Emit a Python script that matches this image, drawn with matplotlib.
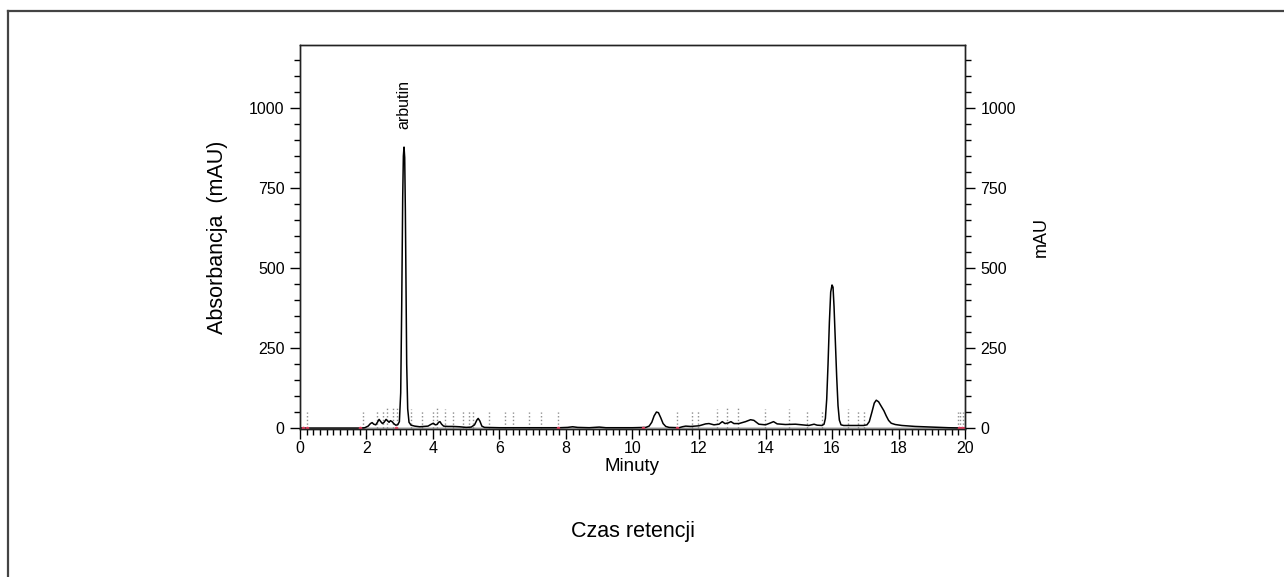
import matplotlib
matplotlib.use('Agg')
from matplotlib import pyplot as plt
from matplotlib.ticker import MultipleLocator
from matplotlib.lines import Line2D

plt.rcParams['font.family'] = ['Liberation Sans', 'DejaVu Sans']

# chromatogram trace (minutes, mAU)
time = [0.0, 1.85, 1.95, 2.05, 2.12, 2.17, 2.22, 2.28, 2.33, 2.38, 2.43, 2.48,
        2.53, 2.59, 2.64, 2.68, 2.72, 2.77, 2.82, 2.88, 2.94, 2.99, 3.03, 3.06,
        3.09, 3.11, 3.13, 3.15, 3.17, 3.19, 3.21, 3.24, 3.28, 3.34, 3.45, 3.6,
        3.75, 3.85, 3.95, 4.01, 4.07, 4.12, 4.17, 4.21, 4.26, 4.32, 4.45, 4.6,
        4.8, 5.0, 5.15, 5.25, 5.32, 5.36, 5.41, 5.47, 5.55, 6.0, 7.0, 7.8,
        8.05, 8.2, 8.35, 8.7, 9.0, 9.2, 10.0, 10.4, 10.5, 10.58, 10.65, 10.72,
        10.78, 10.85, 10.92, 11.0, 11.1, 11.4, 11.5, 11.6, 11.75, 12.0, 12.2,
        12.3, 12.45, 12.6, 12.7, 12.78, 12.88, 12.96, 13.05, 13.2, 13.4, 13.55,
        13.65, 13.8, 14.0, 14.15, 14.24, 14.35, 14.6, 14.9, 15.1, 15.3, 15.46,
        15.55, 15.7, 15.76, 15.8, 15.84, 15.88, 15.92, 15.96, 16.0, 16.03,
        16.06, 16.1, 16.14, 16.18, 16.22, 16.27, 16.35, 16.6, 16.95, 17.05,
        17.12, 17.2, 17.27, 17.33, 17.4, 17.48, 17.56, 17.63, 17.7, 17.78,
        17.9, 18.1, 18.5, 19.0, 19.5, 20.0]
absorb = [0, 0, 1, 6, 14, 17, 12, 10, 18, 27, 20, 14,
          18, 27, 22, 18, 23, 20, 14, 9, 10, 20, 110, 380,
          720, 850, 878, 845, 680, 420, 200, 60, 18, 9, 6, 4,
          5, 6, 12, 15, 10, 11, 18, 20, 12, 6, 5, 5,
          4, 2, 3, 10, 25, 30, 22, 6, 2, 1, 1, 1,
          2, 4, 2, 1, 3, 1, 1, 2, 6, 18, 38, 50,
          48, 32, 14, 5, 2, 1, 4, 6, 5, 7, 13,
          14, 10, 12, 20, 14, 16, 20, 14, 14, 20, 26,
          24, 12, 10, 16, 20, 13, 11, 12, 10, 8, 12,
          9, 8, 12, 30, 90, 200, 330, 425, 447, 440,
          380, 270, 160, 70, 25, 10, 8, 8, 8, 10,
          20, 50, 78, 87, 82, 68, 54, 38, 24, 15,
          11, 8, 5, 3, 1, 0]

# integration event markers (dotted)
mark_t = [0.22, 1.90, 2.31, 2.51, 2.63, 2.81, 2.91, 3.34, 3.66, 3.99, 4.13,
          4.36, 4.59, 4.89, 5.09, 5.21, 5.69, 6.17, 6.42, 6.90, 7.24, 7.77,
          11.33, 11.78, 11.98, 12.53, 12.83, 13.16, 13.98, 14.71, 15.24,
          15.69, 16.49, 16.77, 16.97, 19.80, 19.85, 19.93]
mark_h = [50, 50, 56, 53, 62, 66, 62, 58, 55, 55, 62,
          58, 56, 53, 53, 53, 50, 50, 50, 50, 50, 50,
          51, 56, 56, 58, 62, 64, 60, 60, 56,
          56, 60, 56, 56, 50, 50, 50]
red_t = [0.1, 0.22, 1.8, 2.9, 7.77, 10.32, 11.33, 19.82, 19.9, 20.0]

fig = plt.figure(figsize=(12.84, 5.77), dpi=100)
ax = fig.add_axes([0.2336, 0.2565, 0.518, 0.6655])

ax.plot([1.8, 20], [0, 0], '-', color='#c8c8c8', linewidth=2, zorder=1)
for t, h in zip(mark_t, mark_h):
    ax.plot([t, t], [0, h], ':', color='#8c8c8c', linewidth=1, zorder=1)
ax.plot(time, absorb, 'k-', linewidth=1.1, zorder=3)
ax.plot(red_t, [0] * len(red_t), 'o', color='#e04060', markersize=1.6,
        zorder=4)

ax.text(3.13, 935, 'arbutin', rotation=90, ha='center', va='bottom',
        fontsize=11.5)

ax.set_xlim(0, 20)
ax.set_ylim(-3, 1197)
ax.xaxis.set_major_locator(MultipleLocator(2))
ax.xaxis.set_minor_locator(MultipleLocator(0.2))
ax.yaxis.set_major_locator(MultipleLocator(250))
ax.yaxis.set_minor_locator(MultipleLocator(50))
ax.set_yticks([0, 250, 500, 750, 1000])
ax.tick_params(which='major', direction='out', length=7, width=1,
               labelsize=11.5, pad=4)
ax.tick_params(axis='x', which='major', pad=1.5)
ax.tick_params(which='minor', direction='out', length=4, width=1)
ax.set_xlabel('Minuty', fontsize=13.5, labelpad=1.5)
ax.set_ylabel('Absorbancja  (mAU)', fontsize=15.5, labelpad=15)

ax2 = ax.twinx()
ax2.set_ylim(ax.get_ylim())
ax2.set_yticks([0, 250, 500, 750, 1000])
ax2.yaxis.set_minor_locator(MultipleLocator(50))
ax2.tick_params(which='major', direction='out', length=7, width=1,
                labelsize=11.5, pad=4)
ax2.tick_params(which='minor', direction='out', length=4, width=1)
ax2.set_ylabel('mAU', fontsize=13, labelpad=12)

for a in (ax, ax2):
    for s in a.spines.values():
        s.set_linewidth(1)
        s.set_color('#222222')

fig.text(633 / 1284, 1 - 531 / 577, 'Czas retencji', ha='center',
         va='center', fontsize=15.5)

# outer frame (top and left edges only)
fig.add_artist(Line2D([8 / 1284, 8 / 1284], [0, 1 - 11 / 577],
                      transform=fig.transFigure, color='#444444',
                      linewidth=1.6))
fig.add_artist(Line2D([8 / 1284, 1], [1 - 11 / 577, 1 - 11 / 577],
                      transform=fig.transFigure, color='#444444',
                      linewidth=1.6))

fig.savefig('out.png', dpi=100)
